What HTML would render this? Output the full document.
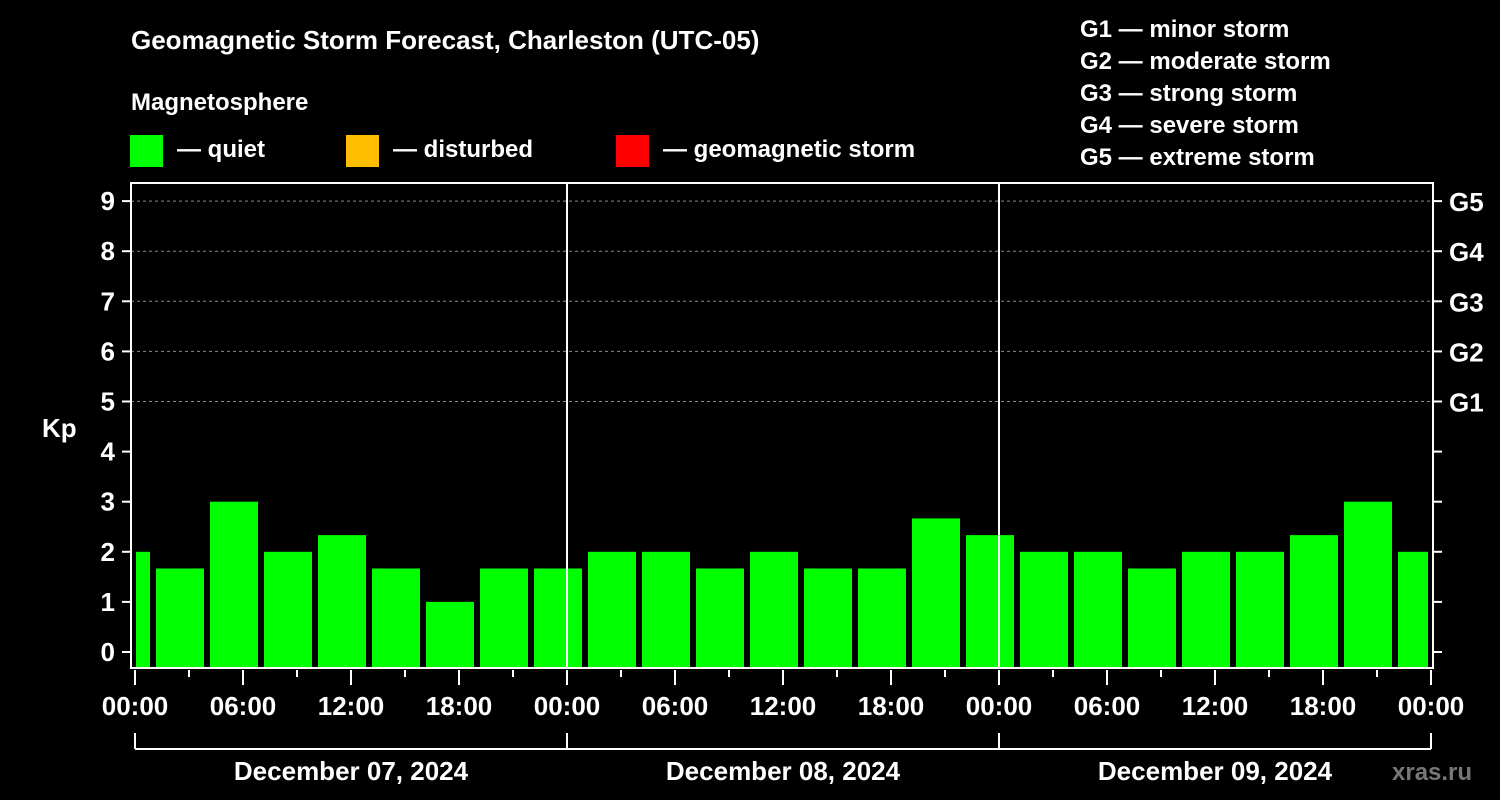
<!DOCTYPE html>
<html><head><meta charset="utf-8">
<style>
html,body{margin:0;padding:0;background:#000;}
svg{display:block;}
text{font-family:"Liberation Sans",Arial,sans-serif;font-weight:bold;fill:#fff;}
</style></head>
<body>
<svg id="chart" width="1500" height="800" viewBox="0 0 1500 800" xmlns="http://www.w3.org/2000/svg">
<rect width="1500" height="800" fill="#000"/>
<text x="131" y="49" font-size="26">Geomagnetic Storm Forecast, Charleston (UTC-05)</text>
<text x="131" y="110" font-size="24">Magnetosphere</text>
<rect x="130" y="135" width="33" height="32" fill="#00ff00"/>
<text x="177" y="157" font-size="24">— quiet</text>
<rect x="346" y="135" width="33" height="32" fill="#ffbf00"/>
<text x="393" y="157" font-size="24">— disturbed</text>
<rect x="616" y="135" width="33" height="32" fill="#ff0000"/>
<text x="663" y="157" font-size="24">— geomagnetic storm</text>
<g font-size="24">
<text x="1080" y="37">G1 — minor storm</text>
<text x="1080" y="69">G2 — moderate storm</text>
<text x="1080" y="101">G3 — strong storm</text>
<text x="1080" y="133">G4 — severe storm</text>
<text x="1080" y="165">G5 — extreme storm</text>
</g>
<text x="42" y="437" font-size="26">Kp</text>
<text x="1392" y="780" font-size="24" fill="#777" style="fill:#777">xras.ru</text>
<g id="grid"></g><g id="bars"></g><g id="axes"></g>
</svg>
<script>
const kpValues=[2,5/3,3,2,7/3,5/3,1,5/3,5/3,2,2,5/3,2,5/3,5/3,8/3,7/3,2,2,5/3,2,2,7/3,3,2];
const yTicks=[0,1,2,3,4,5,6,7,8,9];
const gLabels=["G1","G2","G3","G4","G5"];
const xTickLabels=["00:00","06:00","12:00","18:00","00:00","06:00","12:00","18:00","00:00","06:00","12:00","18:00","00:00"];
const dayLabels=["December 07, 2024","December 08, 2024","December 09, 2024"];

const NS="http://www.w3.org/2000/svg";
const L=131,R=1433,T=183,B=668,X0=135,HR=18;
const y=v=>652-v*50.1;
const x=h=>X0+h*HR;
function mk(tag,attrs,parent,txt){const e=document.createElementNS(NS,tag);for(const k in attrs)e.setAttribute(k,attrs[k]);if(txt!==undefined)e.textContent=txt;parent.appendChild(e);return e;}
const grid=document.getElementById('grid'),bars=document.getElementById('bars'),axes=document.getElementById('axes');
// gridlines
for(let g=5;g<=9;g++){const l=mk('line',{x1:L,x2:R,y1:y(g),y2:y(g),stroke:'#888','stroke-dasharray':'3,3','stroke-width':1},grid);

}
// bars
kpValues.forEach((v,i)=>{const c=-0.5+i*3;let x1=Math.max(x(c)-24,X0+1),x2=Math.min(x(c)+24,1428);
const r=mk('rect',{x:x1,y:y(v),width:x2-x1,height:B-y(v),fill:'#00ff00'},bars);

});
// day separators
[24,48].forEach(h=>{const l=mk('line',{x1:x(h),x2:x(h),y1:T,y2:B,stroke:'#fff','stroke-width':2},axes);

});
// frame
const fr=mk('rect',{x:L,y:T,width:R-L,height:B-T,fill:'none',stroke:'#fff','stroke-width':2},axes);


// y ticks
yTicks.forEach(v=>{mk('line',{x1:122,x2:L,y1:y(v),y2:y(v),stroke:'#fff','stroke-width':2},axes);
mk('line',{x1:R,x2:1442,y1:y(v),y2:y(v),stroke:'#fff','stroke-width':2},axes);
const t=mk('text',{x:115,y:y(v)+9,'font-size':26,'text-anchor':'end'},axes,String(v));

});
gLabels.forEach((g,i)=>{const t=mk('text',{x:1449,y:y(5+i)+10,'font-size':26},axes,g);

});
// x ticks
for(let h=0;h<=72;h+=3){const major=h%6===0;mk('line',{x1:x(h),x2:x(h),y1:B+2,y2:major?B+17:B+9,stroke:'#fff','stroke-width':2},axes);}
xTickLabels.forEach((s,i)=>{const t=mk('text',{x:x(i*6),y:715,'font-size':26,'text-anchor':'middle'},axes,s);

});
// date bracket
mk('line',{x1:x(0),x2:x(72),y1:749,y2:749,stroke:'#fff','stroke-width':2},axes);
[0,24,48,72].forEach(h=>mk('line',{x1:x(h),x2:x(h),y1:733,y2:749,stroke:'#fff','stroke-width':2},axes));
dayLabels.forEach((s,i)=>{const t=mk('text',{x:x(i*24+12),y:780,'font-size':26,'text-anchor':'middle'},axes,s);

});
</script>
</body></html>
